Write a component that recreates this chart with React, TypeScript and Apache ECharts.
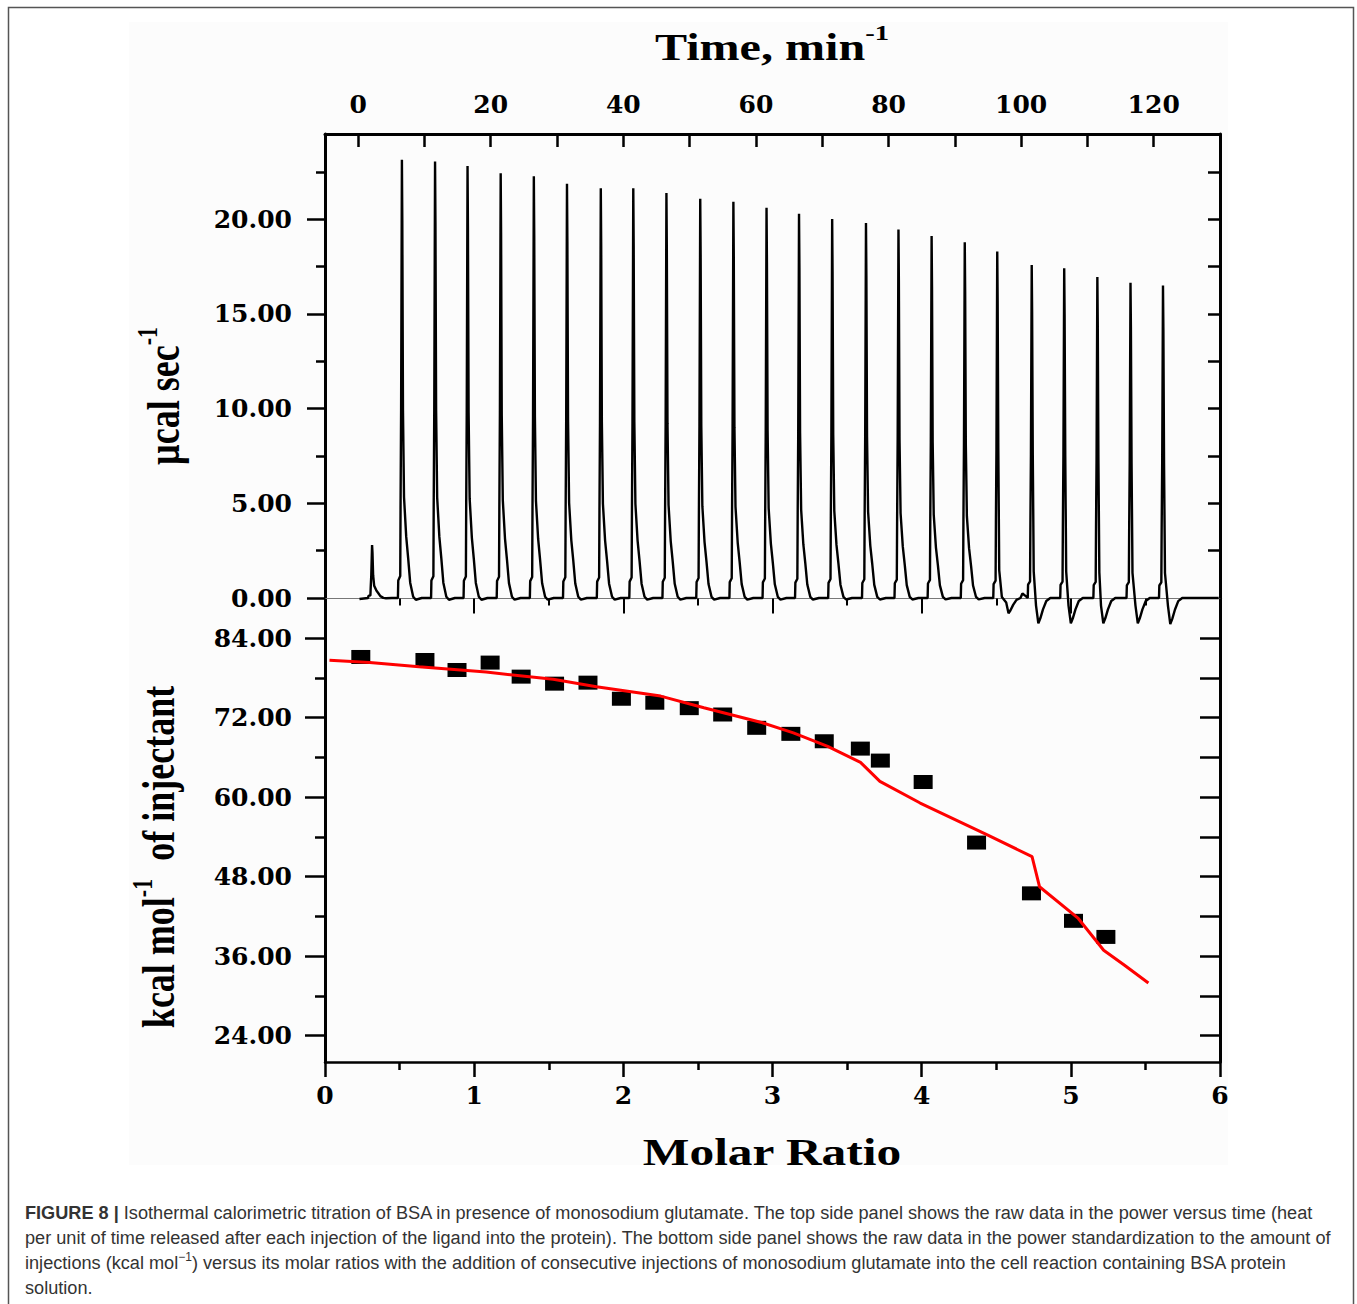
import React, { useEffect, useRef } from "react";
import * as echarts from "echarts";

// ---------- axis tick / label values ----------
const timeTickValues = [0, 10, 20, 30, 40, 50, 60, 70, 80, 90, 100, 110, 120, 130];
const timeLabelValues = [0, 20, 40, 60, 80, 100, 120];
const powerLabelValues = [0, 5, 10, 15, 20];
const powerMinorTickValues = [2.5, 7.5, 12.5, 17.5, 22.5];
const powerRightTickValues = [2.5, 5, 7.5, 10, 12.5, 15, 17.5, 20, 22.5];
const heatLabelValues = [24, 36, 48, 60, 72, 84];
const heatMinorTickValues = [30, 42, 54, 66, 78];
const heatRightTickValues = [24, 30, 36, 42, 48, 54, 60, 66, 72, 78, 84];

// ---------- raw ITC trace (top panel) ----------
const injectionTimes = [2.1, 6.6, 11.6, 16.5, 21.5, 26.5, 31.5, 36.6, 41.5, 46.5, 51.6, 56.6, 61.6, 66.5, 71.5, 76.6, 81.5, 86.5, 91.5, 96.4, 101.6, 106.5, 111.5, 116.5, 121.4];
const peakHeights = [2.8, 23.14, 23.05, 22.81, 22.43, 22.27, 21.87, 21.64, 21.64, 21.38, 21.08, 20.92, 20.61, 20.29, 20.01, 19.8, 19.46, 19.11, 18.79, 18.3, 17.58, 17.41, 16.95, 16.65, 16.5];
const dipTimes = [0, 0, 0, 0, 0, 0, 0, 0, 0, 0, 0, 0, 0, 0, 0, 0, 0, 0, 0, 98.1, 102.6, 107.5, 112.4, 117.6, 122.5];
const dipDepths = [0, 0, 0, 0, 0, 0, 0, 0, 0, 0, 0, 0, 0, 0, 0, 0, 0, 0, 0, -0.81, -1.34, -1.34, -1.34, -1.34, -1.38];
// peak shape read from one injection: [minutes from injection, fraction of peak height]
const riseProfile = [[-0.6, 0], [-0.55, 0.04], [-0.25, 0.05], [-0.2, 0.22], [-0.12, 0.43], [0, 1]];
const tailProfile = [[0.06, 0.86], [0.16, 0.43], [0.32, 0.23], [0.65, 0.14], [0.95, 0.09], [1.25, 0.035], [1.7, 0.003], [2.1, -0.004], [3.0, 0]];
const dipSpikeProfile = [[0.06, 0.86], [0.16, 0.43], [0.3, 0.08]];
// dip shape: [minutes from dip minimum, fraction of dip depth]
const dipShape = [[-0.35, 0.3], [0, 1], [0.3, 0.8], [0.7, 0.45], [1.2, 0.12], [1.8, 0]];
const traceExtraPoints = [[0.2, -0.05], [97.1, 0.05], [100.2, 0.24], [100.7, 0.1], [129.8, 0]];

// ---------- integrated heats (bottom panel) ----------
const molarRatio = [0.24, 0.67, 0.885, 1.107, 1.315, 1.539, 1.763, 1.987, 2.211, 2.442, 2.666, 2.894, 3.123, 3.347, 3.589, 3.723, 4.01, 4.368, 4.736, 5.018, 5.235];
const heatObserved = [81.17, 80.71, 79.2, 80.32, 78.2, 77.14, 77.29, 74.86, 74.26, 73.44, 72.48, 70.47, 69.56, 68.44, 67.33, 65.52, 62.29, 53.14, 45.47, 41.32, 38.89];
const fitRatio = [0.03, 0.3, 0.63, 1.08, 1.53, 1.82, 2.25, 2.54, 2.92, 3.14, 3.37, 3.59, 3.72, 3.99, 4.44, 4.74, 4.79, 5.05, 5.22, 5.36, 5.52];
const fitHeat = [80.67, 80.32, 79.71, 78.89, 77.79, 76.68, 75.26, 73.5, 71.32, 69.71, 67.68, 65.26, 62.38, 59.11, 54.3, 51.02, 46.47, 41.68, 36.88, 34.61, 31.92];

// ---------- caption ----------
const captionBold = "FIGURE 8 | ";
const captionLine1 = "Isothermal calorimetric titration of BSA in presence of monosodium glutamate. The top side panel shows the raw data in the power versus time (heat";
const captionLine2 = "per unit of time released after each injection of the ligand into the protein). The bottom side panel shows the raw data in the power standardization to the amount of";
const captionLine3a = "injections (kcal mol";
const captionLine3sup = "−1";
const captionLine3b = ") versus its molar ratios with the addition of consecutive injections of monosodium glutamate into the cell reaction containing BSA protein";
const captionLine4 = "solution.";

function buildTrace(): number[][] {
  const pts: number[][] = [];
  injectionTimes.forEach((t0, i) => {
    const h = peakHeights[i];
    const d = dipDepths[i];
    riseProfile.forEach(([dt, f]) => pts.push([t0 + dt, h * f]));
    if (d === 0) {
      tailProfile.forEach(([dt, f]) => pts.push([t0 + dt, h * f]));
    } else {
      dipSpikeProfile.forEach(([dt, f]) => pts.push([t0 + dt, h * f]));
      dipShape.forEach(([dt, f]) => pts.push([dipTimes[i] + dt, d * f]));
    }
  });
  traceExtraPoints.forEach((p) => pts.push(p));
  pts.sort((a, b) => a[0] - b[0]);
  return pts;
}

const tickFont = { fontFamily: "DejaVu Serif", fontWeight: "bold" as const, fontSize: 25, color: "#000" };
const black = (w: number) => ({ color: "#000", width: w });
const captionFont = { fontFamily: "Liberation Sans", fontSize: 18.15, fill: "#333" };

function buildOption(): any {
  const trace = buildTrace();
  const observed = molarRatio.map((x, i) => [x, heatObserved[i]]);
  const fit = fitRatio.map((x, i) => [x, fitHeat[i]]);
  const titleFont = "Liberation Serif";

  return {
    animation: false,
    backgroundColor: "#ffffff",
    grid: [
      { left: 325, top: 134, width: 895, height: 464 },
      { left: 325, top: 598.5, width: 895, height: 463.5 },
    ],
    xAxis: [
      {
        gridIndex: 0, type: "value", position: "top", min: -5, max: 130,
        axisLine: { show: true, onZero: false, lineStyle: black(3) },
        axisTick: { show: true, inside: true, length: 13, lineStyle: black(2.5), customValues: timeTickValues },
        axisLabel: { show: true, customValues: timeLabelValues, margin: 17, ...tickFont },
        splitLine: { show: false },
      },
      {
        gridIndex: 1, type: "value", position: "bottom", min: 0, max: 6, interval: 1,
        axisLine: { show: true, onZero: false, lineStyle: black(2.5) },
        axisTick: { show: true, inside: false, length: 15, lineStyle: black(2.5) },
        minorTick: { show: true, splitNumber: 2, length: 8, lineStyle: black(2.5) },
        axisLabel: { show: true, margin: 21, ...tickFont },
        splitLine: { show: false },
        minorSplitLine: { show: false },
      },
      {
        gridIndex: 1, type: "value", position: "top", min: 0, max: 6, interval: 1,
        axisLine: { show: true, onZero: false, lineStyle: { color: "#777", width: 1 } },
        axisTick: { show: true, inside: true, length: 15, lineStyle: black(2) },
        minorTick: { show: true, splitNumber: 2, length: 7, lineStyle: black(2) },
        axisLabel: { show: false },
        splitLine: { show: false },
        minorSplitLine: { show: false },
      },
    ],
    yAxis: [
      {
        gridIndex: 0, type: "value", position: "left", min: 0, max: 24.5,
        axisLine: { show: true, onZero: false, lineStyle: black(3) },
        axisTick: { show: true, inside: false, length: 18, lineStyle: black(2.5), customValues: powerLabelValues },
        axisLabel: { show: true, customValues: powerLabelValues, margin: 33, formatter: (v: number) => v.toFixed(2), ...tickFont },
        splitLine: { show: false },
      },
      {
        gridIndex: 0, type: "value", position: "left", min: 0, max: 24.5,
        axisLine: { show: false, onZero: false },
        axisTick: { show: true, inside: false, length: 9, lineStyle: black(2.5), customValues: powerMinorTickValues },
        axisLabel: { show: false },
        splitLine: { show: false },
      },
      {
        gridIndex: 0, type: "value", position: "right", min: 0, max: 24.5,
        axisLine: { show: true, onZero: false, lineStyle: black(3) },
        axisTick: { show: true, inside: true, length: 12, lineStyle: black(2.5), customValues: powerRightTickValues },
        axisLabel: { show: false },
        splitLine: { show: false },
      },
      {
        gridIndex: 1, type: "value", position: "left", min: 20, max: 90,
        axisLine: { show: true, onZero: false, lineStyle: black(3) },
        axisTick: { show: true, inside: false, length: 20, lineStyle: black(2.5), customValues: heatLabelValues },
        axisLabel: { show: true, customValues: heatLabelValues, margin: 33, formatter: (v: number) => v.toFixed(2), ...tickFont },
        splitLine: { show: false },
      },
      {
        gridIndex: 1, type: "value", position: "left", min: 20, max: 90,
        axisLine: { show: false, onZero: false },
        axisTick: { show: true, inside: false, length: 10, lineStyle: black(2.5), customValues: heatMinorTickValues },
        axisLabel: { show: false },
        splitLine: { show: false },
      },
      {
        gridIndex: 1, type: "value", position: "right", min: 20, max: 90,
        axisLine: { show: true, onZero: false, lineStyle: black(3) },
        axisTick: { show: true, inside: true, length: 20, lineStyle: black(2.5), customValues: heatRightTickValues },
        axisLabel: { show: false },
        splitLine: { show: false },
      },
    ],
    series: [
      {
        type: "line", name: "raw power", xAxisIndex: 0, yAxisIndex: 0, data: trace,
        showSymbol: false, symbol: "none", clip: false, z: 3,
        lineStyle: { color: "#000", width: 2.4 },
      },
      {
        type: "scatter", name: "integrated heat", xAxisIndex: 1, yAxisIndex: 3, data: observed,
        symbol: "rect", symbolSize: [19, 14], itemStyle: { color: "#000", opacity: 1 }, z: 3,
      },
      {
        type: "line", name: "fit", xAxisIndex: 1, yAxisIndex: 3, data: fit,
        showSymbol: false, symbol: "none", z: 4,
        lineStyle: { color: "#ff0000", width: 3 },
      },
    ],
    graphic: [
      { type: "rect", z: -10, silent: true, shape: { x: 129, y: 22, width: 1099, height: 1143 }, style: { fill: "#fcfcfc" } },
      { type: "rect", silent: true, shape: { x: 8.5, y: 7.5, width: 1345, height: 1320 }, style: { fill: "none", stroke: "#555", lineWidth: 1.5 } },
      {
        type: "text", x: 772, y: 47, scaleX: 1.3,
        style: {
          text: "{m|Time, min}{s|-1}", align: "center", verticalAlign: "middle", fill: "#000",
          rich: {
            m: { fontFamily: titleFont, fontWeight: "bold", fontSize: 37, lineHeight: 50, fill: "#000" },
            s: { fontFamily: titleFont, fontWeight: "bold", fontSize: 22, verticalAlign: "top", fill: "#000" },
          },
        },
      },
      {
        type: "text", x: 772, y: 1152, scaleX: 1.3,
        style: { text: "Molar Ratio", align: "center", verticalAlign: "middle", fill: "#000", fontFamily: titleFont, fontWeight: "bold", fontSize: 38 },
      },
      {
        type: "text", x: 163, y: 396, rotation: Math.PI / 2, scaleY: 1.3,
        style: {
          text: "{m|µcal sec}{s|-1}", align: "center", verticalAlign: "middle", fill: "#000",
          rich: {
            m: { fontFamily: titleFont, fontWeight: "bold", fontSize: 36, lineHeight: 46, fill: "#000" },
            s: { fontFamily: titleFont, fontWeight: "bold", fontSize: 22, verticalAlign: "top", fill: "#000" },
          },
        },
      },
      {
        type: "text", x: 158, y: 857, rotation: Math.PI / 2, scaleY: 1.3,
        style: {
          text: "{m|kcal mol}{s|-1}{m|  of injectant}", align: "center", verticalAlign: "middle", fill: "#000",
          rich: {
            m: { fontFamily: titleFont, fontWeight: "bold", fontSize: 36, lineHeight: 46, fill: "#000" },
            s: { fontFamily: titleFont, fontWeight: "bold", fontSize: 22, verticalAlign: "top", fill: "#000" },
          },
        },
      },
      {
        type: "text", x: 25, y: 1213,
        style: {
          text: "{b|" + captionBold + "}{r|" + captionLine1 + "}", align: "left", verticalAlign: "middle",
          rich: {
            b: { ...captionFont, fontWeight: "bold" },
            r: { ...captionFont },
          },
        },
      },
      {
        type: "text", x: 25, y: 1238,
        style: { text: captionLine2, align: "left", verticalAlign: "middle", ...captionFont },
      },
      {
        type: "text", x: 25, y: 1263,
        style: {
          text: "{r|" + captionLine3a + "}{s|" + captionLine3sup + "}{r|" + captionLine3b + "}", align: "left", verticalAlign: "middle",
          rich: {
            r: { ...captionFont, lineHeight: 24 },
            s: { ...captionFont, fontSize: 12, verticalAlign: "top" },
          },
        },
      },
      {
        type: "text", x: 25, y: 1288,
        style: { text: captionLine4, align: "left", verticalAlign: "middle", ...captionFont },
      },
    ],
  };
}

export default function App() {
  const ref = useRef<HTMLDivElement>(null);
  useEffect(() => {
    document.body.style.overflow = "hidden";
    const chart = echarts.init(ref.current as HTMLDivElement, null, { renderer: "svg" });
    chart.setOption(buildOption());
    return () => {
      chart.dispose();
    };
  }, []);
  return (
    <div
      ref={ref}
      style={{ position: "absolute", left: 0, top: 0, width: 1357, height: 1304, background: "#fff" }}
    />
  );
}
